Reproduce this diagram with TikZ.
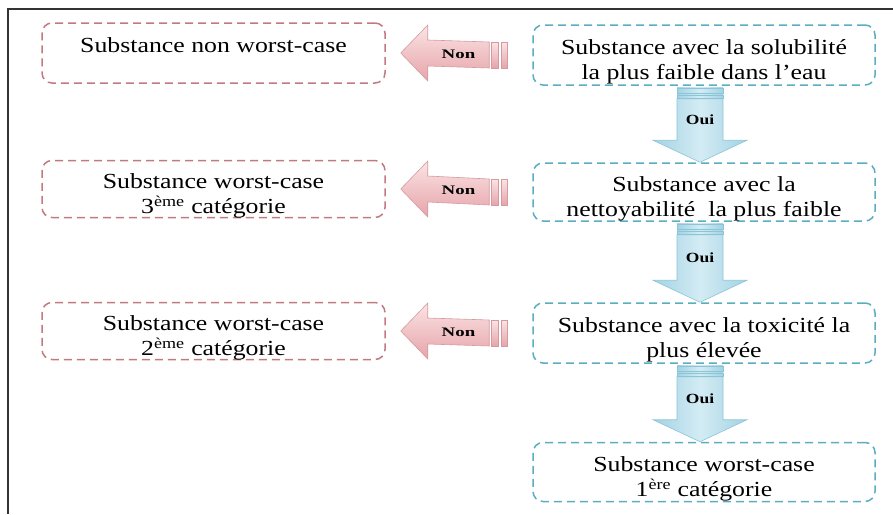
\documentclass[tikz,border=0pt]{standalone}
\usepackage{fontspec}
\usepackage{graphicx}
\setmainfont{Liberation Serif}
\usetikzlibrary{calc}

\definecolor{frameline}{HTML}{333333}
\definecolor{rosedash}{HTML}{C27A82}
\definecolor{bluedash}{HTML}{5AAEC0}
\definecolor{pinklight}{HTML}{FBE4E5}
\definecolor{pinkdark}{HTML}{E6A4A9}
\definecolor{pinkedge}{HTML}{D59AA0}
\definecolor{bluelight}{HTML}{D3ECF4}
\definecolor{bluemid}{HTML}{A3D2E3}
\definecolor{blueedge}{HTML}{8CC4D7}

% box text: widened serif lines, set a little below the box centre
\newcommand{\boxtext}[1]{\raisebox{-7pt}[\height][\depth]{%
  \scalebox{1.2}[1]{\begin{tabular}{@{}c@{}}#1\end{tabular}}}}

\tikzset{
  basebox/.style={rounded corners=10pt, line width=1.5pt, dash pattern=on 8pt off 5pt,
    align=center, font=\fontsize{21.5}{24.5}\selectfont, inner sep=0pt},
  nobox/.style={basebox, draw=rosedash, minimum width=343pt},
  yesbox/.style={basebox, draw=bluedash, minimum width=342pt},
  nonbody/.style={draw=pinkedge, line width=0.6pt, top color=pinklight, bottom color=pinkdark},
  nonband/.style={draw=pinkedge, line width=0.4pt, top color=pinklight, bottom color=pinkdark},
  ouibody/.style={draw=blueedge, line width=0.6pt, shading=axis, left color=bluemid, right color=bluemid, middle color=bluelight},
  ouiband/.style={draw=blueedge, line width=0.4pt, shading=axis, left color=bluemid, right color=bluemid, middle color=bluelight},
  nontag/.style={font=\bfseries\fontsize{13}{15}\selectfont, inner sep=0pt},
  ouitag/.style={font=\bfseries\fontsize{14}{16}\selectfont, inner sep=0pt},
}

% block arrow pointing left, from node #1 (right) to node #2 (left); label node #3
\newcommand{\nonblock}[3]{%
  \coordinate (#3-tip) at ($(#2.east)+(15,0)$);
  \coordinate (#3-tail) at ($(#1.west)+(-23,0)$);
  \path[nonbody] (#3-tip) -- ($(#3-tip)+(27,-28)$) -- ($(#3-tip)+(27,-13)$)
    -- ($(#3-tail)+(-20,-13)$) -- ($(#3-tail)+(-20,13)$) -- ($(#3-tip)+(27,13)$)
    -- ($(#3-tip)+(27,28)$) -- cycle;
  \path[nonband] ($(#3-tail)+(-18,-13)$) rectangle ($(#3-tail)+(-11,13)$);
  \path[nonband] ($(#3-tail)+(-8,-13)$) rectangle ($(#3-tail)+(-2,13)$);
  \node[nontag] (#3) at ($($(#3-tip)+(27,0)$)!0.5!($(#3-tail)+(-20,0)$)$)
    {\scalebox{1.45}[1]{Non}};
}

% block arrow pointing down, from node #1 (above) to node #2 (below); label node #3
\newcommand{\ouiblock}[3]{%
  \coordinate (#3-top) at ($(#1.south)+(-4,0)$);
  \coordinate (#3-tip) at ($(#2.north)+(-4,0)$);
  \path[ouibody] ($(#3-top)+(-23,13)$) -- ($(#3-tip)+(-23,-22)$) -- ($(#3-tip)+(-47,-22)$)
    -- (#3-tip) -- ($(#3-tip)+(47,-22)$) -- ($(#3-tip)+(23,-22)$)
    -- ($(#3-top)+(23,13)$) -- cycle;
  \path[ouiband] ($(#3-top)+(-23,2)$) rectangle ($(#3-top)+(23,7)$);
  \path[ouiband] ($(#3-top)+(-23,9)$) rectangle ($(#3-top)+(23,12)$);
  \node[ouitag] (#3) at ($($(#3-top)+(0,13)$)!0.5!($(#3-tip)+(0,-22)$)$)
    {\scalebox{1.25}[1]{Oui}};
}

\begin{document}
\begin{tikzpicture}[x=1pt, y=-1pt]
  \useasboundingbox (0,0) rectangle (893,514);
  % outer frame (only the left and top edges fall inside the page)
  \draw[frameline, line width=2pt] (8,514) -- (8,9) -- (893,9);

  % decision column
  \node[yesbox, minimum height=60pt] (solub) at (704,55)
    {\boxtext{Substance avec la solubilité\\la plus faible dans l’eau}};
  \node[yesbox, minimum height=58pt] (nettoy) at (704,192)
    {\boxtext{Substance avec la\\nettoyabilité\ \ la plus faible}};
  \node[yesbox, minimum height=60pt] (toxic) at (704,333)
    {\boxtext{Substance avec la toxicité la\\plus élevée}};
  \node[yesbox, minimum height=59pt] (cat1) at (704,472)
    {\boxtext{Substance worst-case\\1\textsuperscript{ère} catégorie}};

  % outcome column
  \node[nobox, minimum height=60pt] (nonwc) at (213.5,53)
    {\boxtext{Substance non worst-case\\\strut}};
  \node[nobox, minimum height=57pt] (cat3) at (213.5,189)
    {\boxtext{Substance worst-case\\3\textsuperscript{ème} catégorie}};
  \node[nobox, minimum height=57pt] (cat2) at (213.5,331)
    {\boxtext{Substance worst-case\\2\textsuperscript{ème} catégorie}};

  % connectors
  \nonblock{solub}{nonwc}{non1}
  \nonblock{nettoy}{cat3}{non2}
  \nonblock{toxic}{cat2}{non3}
  \ouiblock{solub}{nettoy}{oui1}
  \ouiblock{nettoy}{toxic}{oui2}
  \ouiblock{toxic}{cat1}{oui3}
\end{tikzpicture}
\end{document}
